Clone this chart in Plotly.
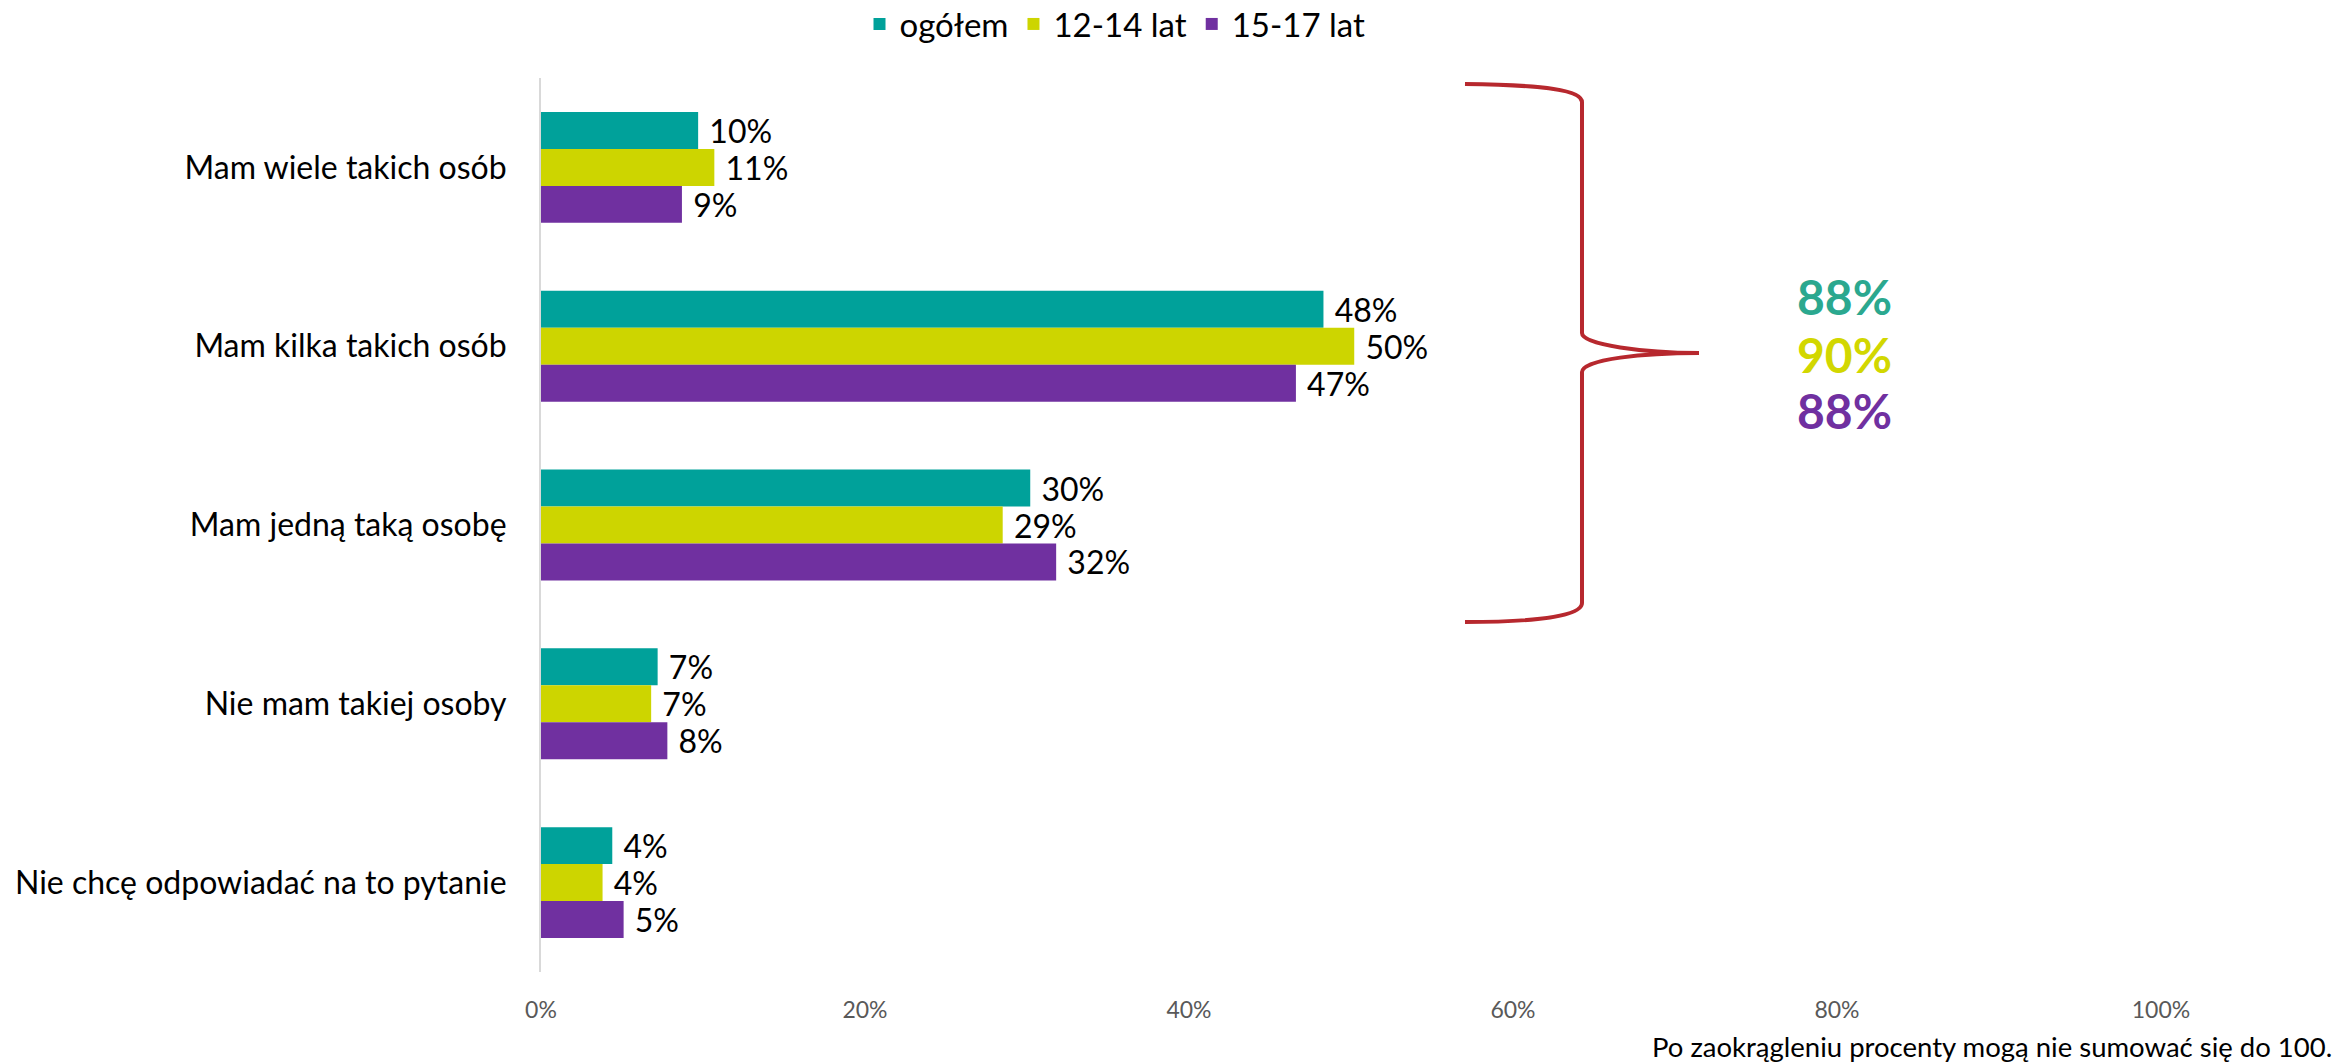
import plotly.graph_objects as go

categories = ["Mam wiele takich osób", "Mam kilka takich osób", "Mam jedną taką osobę",
              "Nie mam takiej osoby", "Nie chcę odpowiadać na to pytanie"]
series_names = ["ogółem", "12-14 lat", "15-17 lat"]
ogolem = [9.7, 48.3, 30.2, 7.2, 4.4]
lat_12_14 = [10.7, 50.2, 28.5, 6.8, 3.8]
lat_15_17 = [8.7, 46.6, 31.8, 7.8, 5.1]
labels_ogolem = ["10%", "48%", "30%", "7%", "4%"]
labels_12_14 = ["11%", "50%", "29%", "7%", "4%"]
labels_15_17 = ["9%", "47%", "32%", "8%", "5%"]
totals = ["88%", "90%", "88%"]
tick_vals = [0, 20, 40, 60, 80, 100]
tick_text = ["0%", "20%", "40%", "60%", "80%", "100%"]
footnote = "Po zaokrągleniu procenty mogą nie sumować się do 100."

colors = ["#00A19A", "#CDD500", "#7030A0"]
total_colors = ["#2BA88F", "#D2D700", "#7030A0"]

W, H = 2335, 1064
L, R, T, B = 541, 174, 78, 92
PW, PH = W - L - R, H - T - B


def px(x, y):
    return (x - L) / PW, (H - B - y) / PH


fig = go.Figure()
for name, vals, labs, col in zip(series_names, [ogolem, lat_12_14, lat_15_17],
                                 [labels_ogolem, labels_12_14, labels_15_17], colors):
    fig.add_trace(go.Bar(
        name=name, y=categories, x=vals, orientation="h",
        marker=dict(color=col, line=dict(width=0)),
        text=["\u00a0" + t for t in labs], textposition="outside",
        textfont=dict(family="Lato", size=32, color="#000000"),
        constraintext="none", cliponaxis=False, hoverinfo="skip",
    ))

# brace
pts = [(1465, 84), (1545, 85), (1582, 90), (1582, 102),
       (1582, 333),
       (1582, 345), (1645, 353), (1699, 353),
       (1645, 353), (1582, 359), (1582, 372),
       (1582, 603),
       (1582, 615), (1545, 622), (1465, 622)]
p = [px(*q) for q in pts]
f = lambda q: f"{q[0]:.5f},{q[1]:.5f}"
path = (f"M {f(p[0])} C {f(p[1])} {f(p[2])} {f(p[3])} L {f(p[4])} "
        f"C {f(p[5])} {f(p[6])} {f(p[7])} C {f(p[8])} {f(p[9])} {f(p[10])} "
        f"L {f(p[11])} C {f(p[12])} {f(p[13])} {f(p[14])}")
fig.add_shape(type="path", path=path, xref="paper", yref="paper",
              line=dict(color="#B7282E", width=4))

for t, c, yy in zip(totals, total_colors, [296, 354, 411]):
    xp, yp = px(1844, yy)
    fig.add_annotation(text=f"<b>{t}</b>", x=xp, y=yp, xref="paper", yref="paper",
                       showarrow=False, xanchor="center", yanchor="middle",
                       font=dict(family="Lato", size=48, color=c))

xp, yp = px(2334, 1046)
fig.add_annotation(text=footnote, x=xp, y=yp, xref="paper", yref="paper",
                   showarrow=False, xanchor="right", yanchor="middle",
                   font=dict(family="Lato", size=27.5, color="#000000"))

lx, ly = px(1115, 24)
fig.update_layout(
    width=W, height=H, margin=dict(l=L, r=R, t=T, b=B, autoexpand=False),
    paper_bgcolor="white", plot_bgcolor="white",
    barmode="group", bargap=0.38, bargroupgap=0,
    font=dict(family="Lato", color="#000000"),
    legend=dict(orientation="h", x=lx, y=ly, xanchor="center", yanchor="middle",
                font=dict(family="Lato", size=33, color="#000000"),
                itemwidth=30, traceorder="normal"),
    xaxis=dict(range=[0, 100], tickvals=tick_vals, ticktext=tick_text,
               showgrid=False, zeroline=False, showline=False,
               tickfont=dict(family="Lato", size=23, color="#595959"),
               ticks="", ticklabelstandoff=22),
    yaxis=dict(autorange="reversed", showgrid=False, zeroline=False,
               showline=True, linecolor="#D9D9D9", linewidth=2,
               tickfont=dict(family="Lato", size=32, color="#000000"),
               ticks="", ticklabelstandoff=26),
)

fig.write_html("out.html", config={"displayModeBar": False},
               post_script="document.body.style.margin='0';document.body.style.overflow='hidden';")
